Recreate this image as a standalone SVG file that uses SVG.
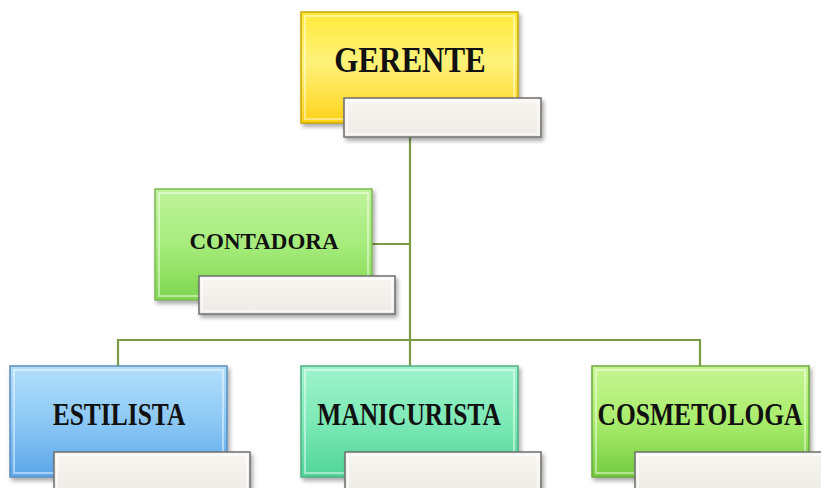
<svg xmlns="http://www.w3.org/2000/svg" width="821" height="488" viewBox="0 0 821 488">
<style>
.lbl{font-family:"Liberation Serif","Times New Roman",serif;font-weight:bold;fill:#111;text-anchor:middle}
.big{font-size:25.5px}
.box{stroke-width:1.5}
.sub{fill:url(#gSub);stroke:#6f6f6f;stroke-width:1.5}
.subin{fill:none;stroke:#ffffff;stroke-width:1.5;opacity:0.8}
.hl{fill:none;stroke:#ffffff;stroke-width:2;opacity:0.45}
.conn{fill:none;stroke:#7a9c44;stroke-width:2.2}
</style>
<defs>
<linearGradient id="gY" x1="0" y1="0" x2="0" y2="1"><stop offset="0" stop-color="#ffea3a"/><stop offset="0.45" stop-color="#fff27a"/><stop offset="1" stop-color="#ffd21a"/></linearGradient>
<linearGradient id="gC" x1="0" y1="0" x2="0" y2="1"><stop offset="0" stop-color="#bff39a"/><stop offset="0.5" stop-color="#a6ec7c"/><stop offset="1" stop-color="#7fd64e"/></linearGradient>
<linearGradient id="gB" x1="0" y1="0" x2="0" y2="1"><stop offset="0" stop-color="#b3dffb"/><stop offset="0.5" stop-color="#8cc8f5"/><stop offset="1" stop-color="#5ba6ea"/></linearGradient>
<linearGradient id="gM" x1="0" y1="0" x2="0" y2="1"><stop offset="0" stop-color="#9ff3cc"/><stop offset="0.5" stop-color="#7de9b6"/><stop offset="1" stop-color="#4fd49a"/></linearGradient>
<linearGradient id="gO" x1="0" y1="0" x2="0" y2="1"><stop offset="0" stop-color="#c6f590"/><stop offset="0.5" stop-color="#a9ec6c"/><stop offset="1" stop-color="#74cc40"/></linearGradient>
<linearGradient id="gSub" x1="0" y1="0" x2="0" y2="1"><stop offset="0" stop-color="#f7f6f1"/><stop offset="1" stop-color="#ecebe5"/></linearGradient>
<filter id="sh" x="-10%" y="-10%" width="125%" height="130%"><feDropShadow dx="2" dy="3" stdDeviation="2" flood-color="#000" flood-opacity="0.35"/></filter>
</defs>

<g id="connectors">
<path class="conn" d="M410 137 V340"/>
<path class="conn" d="M372 244 H410"/>
<path class="conn" d="M118 366 V340 H700 V366"/>
<path class="conn" d="M410 340 V366"/>
</g>

<g id="gerente">
<rect x="301" y="12" width="217" height="111" fill="url(#gY)" stroke="#c9a800" class="box" filter="url(#sh)"/>
<rect x="305" y="16" width="209" height="103" class="hl"/>
<text class="lbl" font-size="31" transform="translate(410 72) scale(1 1.16)">GERENTE</text>
<rect x="344" y="98" width="197" height="39" class="sub" filter="url(#sh)"/>
<rect x="347" y="101" width="191" height="33" class="subin"/>
</g>

<g id="contadora">
<rect x="155" y="189" width="217" height="111" fill="url(#gC)" stroke="#7fb85a" class="box" filter="url(#sh)"/>
<rect x="159" y="193" width="209" height="103" class="hl"/>
<text class="lbl" x="264" y="249" font-size="23">CONTADORA</text>
<rect x="199" y="276" width="196" height="38" class="sub" filter="url(#sh)"/>
<rect x="202" y="279" width="190" height="32" class="subin"/>
</g>

<g id="estilista">
<rect x="10" y="366" width="217" height="111" fill="url(#gB)" stroke="#5b8fc0" class="box" filter="url(#sh)"/>
<rect x="14" y="370" width="209" height="103" class="hl"/>
<text class="lbl big" transform="translate(119 425) scale(1 1.25)">ESTILISTA</text>
<rect x="54" y="452" width="196" height="40" class="sub" filter="url(#sh)"/>
<rect x="57" y="455" width="190" height="34" class="subin"/>
</g>

<g id="manicurista">
<rect x="301" y="366" width="217" height="111" fill="url(#gM)" stroke="#4fae84" class="box" filter="url(#sh)"/>
<rect x="305" y="370" width="209" height="103" class="hl"/>
<text class="lbl big" transform="translate(409 425) scale(1 1.25)">MANICURISTA</text>
<rect x="345" y="452" width="196" height="40" class="sub" filter="url(#sh)"/>
<rect x="348" y="455" width="190" height="34" class="subin"/>
</g>

<g id="cosmetologa">
<rect x="592" y="366" width="217" height="111" fill="url(#gO)" stroke="#6aaa40" class="box" filter="url(#sh)"/>
<rect x="596" y="370" width="209" height="103" class="hl"/>
<text class="lbl big" transform="translate(700 425) scale(1 1.25)">COSMETOLOGA</text>
<rect x="635" y="452" width="196" height="40" class="sub" filter="url(#sh)"/>
<rect x="638" y="455" width="190" height="34" class="subin"/>
</g>
</svg>
